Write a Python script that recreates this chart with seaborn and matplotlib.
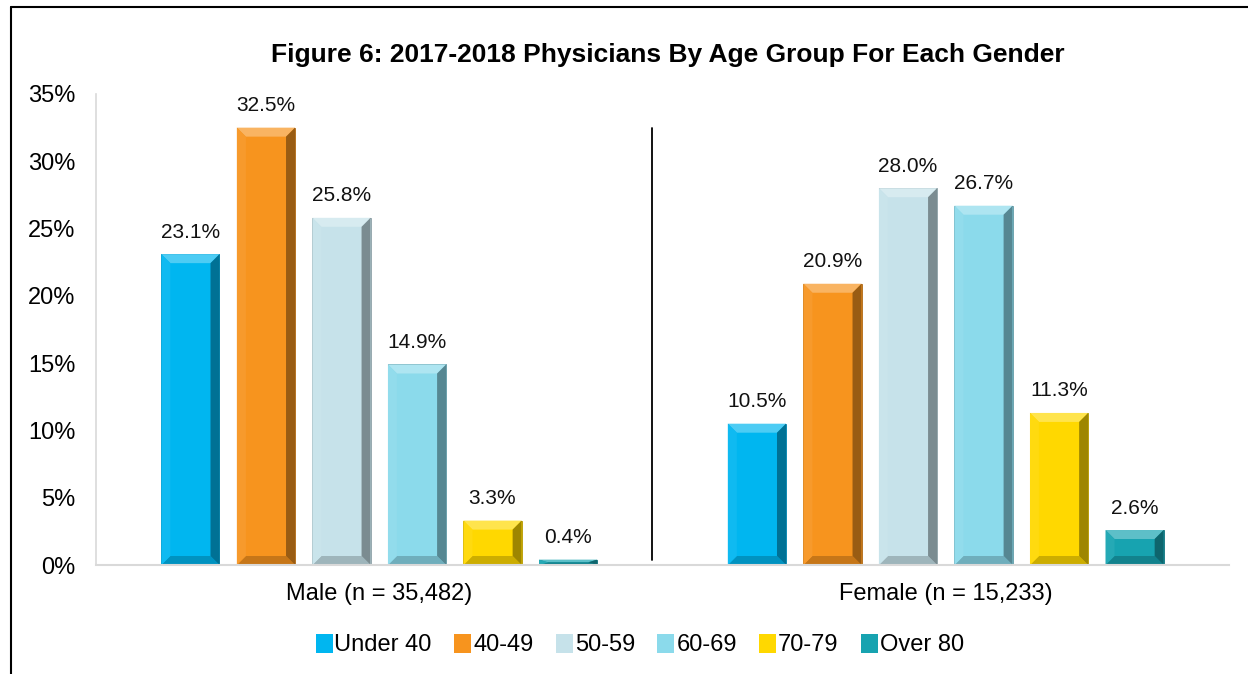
import matplotlib
matplotlib.use("Agg")
import matplotlib.pyplot as plt
from matplotlib.lines import Line2D
from matplotlib.patches import Polygon
from matplotlib.colors import to_rgb
import numpy as np
import seaborn as sns
import pandas as pd

genders = ["Male (n = 35,482)", "Female (n = 15,233)"]
age_groups = ["Under 40", "40-49", "50-59", "60-69", "70-79", "Over 80"]
male_pct = [23.1, 32.5, 25.8, 14.9, 3.3, 0.4]
female_pct = [10.5, 20.9, 28.0, 26.7, 11.3, 2.6]
colors = ["#00B6F0", "#F7941E", "#C6E2EA", "#8BDAEB", "#FFD800", "#17A3B0"]
yticks = [0, 5, 10, 15, 20, 25, 30, 35]

rows = []
for g, vals in zip(genders, [male_pct, female_pct]):
    for a, v in zip(age_groups, vals):
        rows.append({"Gender": g, "Age": a, "Pct": v})
df = pd.DataFrame(rows)

sns.set_style("white")
plt.rcParams['font.family'] = ['Liberation Sans', 'DejaVu Sans']
plt.rcParams['text.color'] = 'black'
plt.rcParams['xtick.color'] = 'black'
plt.rcParams['ytick.color'] = 'black'


def mix(c, other, t):
    c = np.array(to_rgb(c))
    o = np.array(to_rgb(other))
    return tuple(c * (1 - t) + o * t)


fig = plt.figure(figsize=(12.48, 6.74), dpi=100)
ax = fig.add_axes([96/1248, 1-565/674, (1229-96)/1248, (565-94)/674])

sns.barplot(data=df, x="Gender", y="Pct", hue="Age", order=genders,
            hue_order=age_groups, palette=colors, saturation=1, width=0.8, gap=0.23,
            linewidth=0, ax=ax, legend=True)

ax.set_xlim(-0.5, 1.5)
ax.set_ylim(0, 35)

# bevel effect on each bar (geometry taken from the drawn bars)
fig.canvas.draw()
px_x = ax.transData.transform((1, 0))[0] - ax.transData.transform((0, 0))[0]
px_y = ax.transData.transform((0, 1))[1] - ax.transData.transform((0, 0))[1]
bev = 9
for cont, col in zip(ax.containers, colors):
    for p in cont.patches:
        x0, w, h = p.get_x(), p.get_width(), p.get_height()
        bx = bev / px_x
        by = min(bev / px_y, h / 2)
        x1 = x0 + w
        polys = [
            ([(x0, h), (x1, h), (x1 - bx, h - by), (x0 + bx, h - by)], mix(col, "white", 0.3)),
            ([(x0, 0), (x1, 0), (x1 - bx, by), (x0 + bx, by)], mix(col, "black", 0.2)),
            ([(x1, 0), (x1, h), (x1 - bx, h - by), (x1 - bx, by)], mix(col, "black", 0.38)),
            ([(x0, 0), (x0, h), (x0 + bx, h - by), (x0 + bx, by)], mix(col, "white", 0.06)),
        ]
        for pts, c in polys:
            ax.add_patch(Polygon(pts, closed=True, facecolor=c, edgecolor="none", zorder=p.get_zorder() + 0.1))
        p.set_edgecolor(mix(col, "black", 0.3))
        p.set_linewidth(0.6)

for cont in ax.containers:
    ax.bar_label(cont, labels=[f"{v:.1f}%" for v in cont.datavalues],
                 padding=9, fontsize=15, color="#111111")

ax.set_yticks(yticks)
ax.set_yticklabels([f"{t}%" for t in yticks], fontsize=17)
ax.tick_params(axis="x", labelsize=17, pad=13, length=0)
ax.tick_params(axis="y", length=0, pad=15)
ax.set_xlabel("")
ax.set_ylabel("")
for s in ["top", "right"]:
    ax.spines[s].set_visible(False)
ax.spines["left"].set_color("#D9D9D9")
ax.spines["bottom"].set_color("#D9D9D9")
ax.spines["left"].set_linewidth(1.2)
ax.spines["bottom"].set_linewidth(1.5)

# divider between gender groups
ax.axvline(0.481, ymin=0.01, ymax=(565-128)/471, color="black", linewidth=1.3)

handles, labels = ax.get_legend_handles_labels()
ax.legend(handles, labels, loc="center", bbox_to_anchor=(0.48, -0.17),
          ncol=6, frameon=False, fontsize=17, handlelength=0.72,
          handleheight=0.85, handletextpad=0.08, columnspacing=0.95)

fig.text(0.535, 1-55/674, "Figure 6: 2017-2018 Physicians By Age Group For Each Gender",
         ha="center", va="center", fontsize=19, fontweight="bold")

# outer frame lines (left and top)
fig.add_artist(Line2D([11/1248, 11/1248], [0, 1-7/674], color="black", linewidth=1.5))
fig.add_artist(Line2D([11/1248, 1], [1-7/674, 1-7/674], color="black", linewidth=1.5))

fig.savefig("out.png", dpi=100)
